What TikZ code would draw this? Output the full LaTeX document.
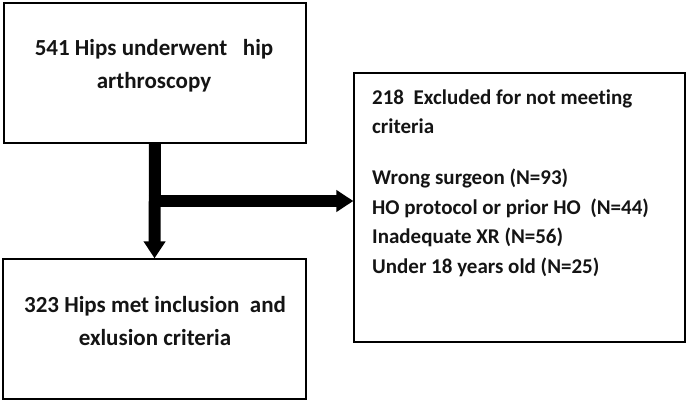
\documentclass[tikz,border=0pt]{standalone}
\usepackage{fontspec}
\setmainfont[Ligatures=NoCommon]{Carlito}
\usetikzlibrary{arrows.meta,calc}
\begin{document}
\begin{tikzpicture}[x=1pt,y=1pt,
  box/.style={draw=black,line width=1.3pt,rectangle,inner sep=0pt},
  txt/.style={inner sep=0pt,anchor=base,text=black!92},
  bigtxt/.style={txt,font=\bfseries\fontsize{23}{33}\selectfont},
  listtxt/.style={txt,anchor=base west,font=\bfseries\fontsize{21}{29.5}\selectfont},
  flow/.style={line width=12pt,-{Triangle[width=21pt,length=17pt]}}]
\useasboundingbox (0,0) rectangle (688,402);
\node[box,minimum width=302pt,minimum height=140pt] (top) at (155,329) {};
\node[box,minimum width=303pt,minimum height=140pt] (bot) at (154.5,73) {};
\node[box,minimum width=331pt,minimum height=269pt] (exc) at (519.5,194.5) {};
\node[bigtxt] (toptxt) at (154,346.5) {\begin{tabular}[t]{@{}c@{}}541 Hips underwent \ \ hip\\arthroscopy\end{tabular}};
\node[bigtxt] (bottxt) at (155,89.5) {\begin{tabular}[t]{@{}c@{}}323 Hips met inclusion \ and\\exlusion criteria\end{tabular}};
\node[listtxt] (exctxt) at (372,297.5) {\begin{tabular}[t]{@{}l@{}}218 \ Excluded for not meeting\\criteria\\[21.5pt]Wrong surgeon (N=93)\\HO protocol or prior HO \ (N=44)\\Inadequate XR (N=56)\\Under 18 years old (N=25)\end{tabular}};
\coordinate (j) at ($(top.south)!0.5!(bot.north)$);
\draw[flow] (top.south) -- (bot.north);
\draw[flow] ([xshift=-6pt]j) -- (j -| exc.west);
\end{tikzpicture}
\end{document}
